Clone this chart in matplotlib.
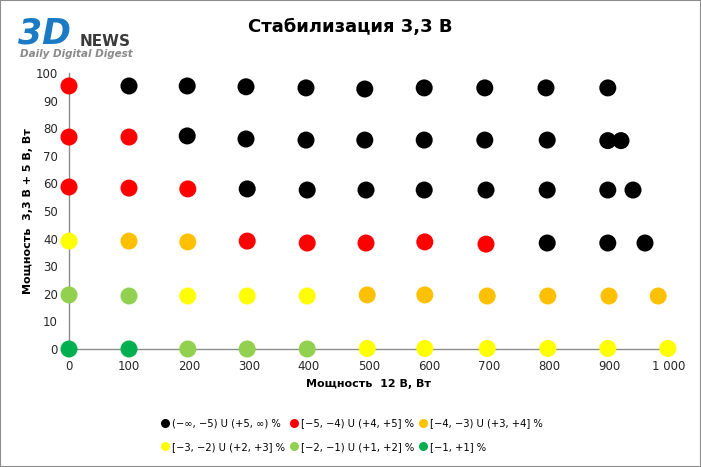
import matplotlib.pyplot as plt
from matplotlib.lines import Line2D
from matplotlib.patches import Rectangle
from matplotlib.ticker import FuncFormatter

TITLE = 'Стабилизация 3,3 В'
X_LABEL = 'Мощность  12 В, Вт'
Y_LABEL = 'Мощность  3,3 В + 5 В, Вт'

# series: (legend label, colour, x values, y values)
black_x = [100, 197, 295, 395, 493, 592, 693, 795, 898,
           197, 295, 395, 493, 592, 693, 797, 898, 920,
           297, 397, 495, 592, 695, 797, 898, 940,
           797, 898, 960]
black_y = [95.3, 95.3, 95.0, 94.6, 94.2, 94.6, 94.6, 94.6, 94.6,
           77.2, 76.1, 75.7, 75.7, 75.7, 75.7, 75.7, 75.5, 75.5,
           58.0, 57.6, 57.6, 57.6, 57.6, 57.6, 57.6, 57.6,
           38.4, 38.4, 38.4]
red_x = [0, 0, 100, 0, 100, 198, 297, 397, 495, 593, 695]
red_y = [95.3, 76.8, 76.8, 58.7, 58.3, 58.0, 39.1, 38.4, 38.4, 38.8, 38.0]
orange_x = [100, 198, 497, 593, 697, 798, 900, 982]
orange_y = [39.1, 38.8, 19.6, 19.6, 19.2, 19.2, 19.2, 19.2]
yellow_x = [0, 198, 297, 397, 497, 593, 697, 798, 898, 998]
yellow_y = [39.1, 19.2, 19.2, 19.2, 0.2, 0.2, 0.2, 0.2, 0.2, 0.2]
lgreen_x = [0, 100, 198, 297, 397]
lgreen_y = [19.6, 19.2, 0.0, 0.0, 0.0]
green_x = [0, 100]
green_y = [0.0, 0.0]

SERIES = [
    ('(\u2212\u221e, \u22125) U (+5, \u221e) %', '#000000', black_x, black_y),
    ('[\u22125, \u22124) U (+4, +5] %', '#ff0000', red_x, red_y),
    ('[\u22124, \u22123) U (+3, +4] %', '#ffc000', orange_x, orange_y),
    ('[\u22123, \u22122) U (+2, +3] %', '#ffff00', yellow_x, yellow_y),
    ('[\u22122, \u22121) U (+1, +2] %', '#92d050', lgreen_x, lgreen_y),
    ('[\u22121, +1] %', '#00b050', green_x, green_y),
]

fig = plt.figure(figsize=(7.01, 4.67), dpi=100)
fig.patches.append(Rectangle((0, 0), 1, 1, transform=fig.transFigure,
                             fill=False, edgecolor='#8c8c8c', linewidth=1.5))
ax = fig.add_axes([69 / 701, 1 - 349 / 467, 600 / 701, 276 / 467])

for label, color, xs, ys in SERIES:
    ax.scatter(xs, ys, s=150, color=color, edgecolors='none',
               clip_on=False, zorder=3, label=label)

ax.set_xlim(0, 1000)
ax.set_ylim(0, 100)
ax.set_xticks(range(0, 1001, 100))
ax.set_yticks(range(0, 101, 10))
ax.xaxis.set_major_formatter(
    FuncFormatter(lambda v, p: f'{int(v):,}'.replace(',', ' ')))
ax.tick_params(length=0, labelsize=8.5, colors='#262626', pad=8)
for side in ('top', 'right'):
    ax.spines[side].set_visible(False)
for side in ('left', 'bottom'):
    ax.spines[side].set_color('#8c8c8c')
    ax.spines[side].set_linewidth(1)

ax.set_xlabel(X_LABEL, fontsize=8, fontweight='bold', labelpad=4)
ax.set_ylabel(Y_LABEL, fontsize=8, fontweight='bold', labelpad=2)

fig.text(0.5, 1 - 27 / 467, TITLE, ha='center', va='center',
         fontsize=13, fontweight='bold')

# logo
fig.text(18 / 701, 1 - 33 / 467, '3D', ha='left', va='center', fontsize=25,
         fontweight='bold', style='italic', color='#1a7bc4')
fig.text(80 / 701, 1 - 42 / 467, 'NEWS', ha='left', va='center', fontsize=11,
         fontweight='bold', color='#3a3a3a')
fig.text(20 / 701, 1 - 54 / 467, 'Daily Digital Digest', ha='left',
         va='center', fontsize=7.5, fontweight='bold', style='italic',
         color='#8a8a8a')

# legend: row-major order of the reference, matplotlib fills by column
handles = [Line2D([], [], linestyle='none', marker='o', markersize=6.5,
                  markerfacecolor=c, markeredgecolor='none')
           for _, c, _, _ in SERIES]
labels = [s[0] for s in SERIES]
order = [0, 3, 1, 4, 2, 5]
fig.legend([handles[i] for i in order], [labels[i] for i in order],
           ncol=3, loc='center', bbox_to_anchor=(352 / 701, 1 - 435 / 467),
           frameon=False, fontsize=7.2, handlelength=0.8, handletextpad=0.3,
           columnspacing=0.5, labelspacing=1.35)

fig.savefig('out.png', dpi=100)
